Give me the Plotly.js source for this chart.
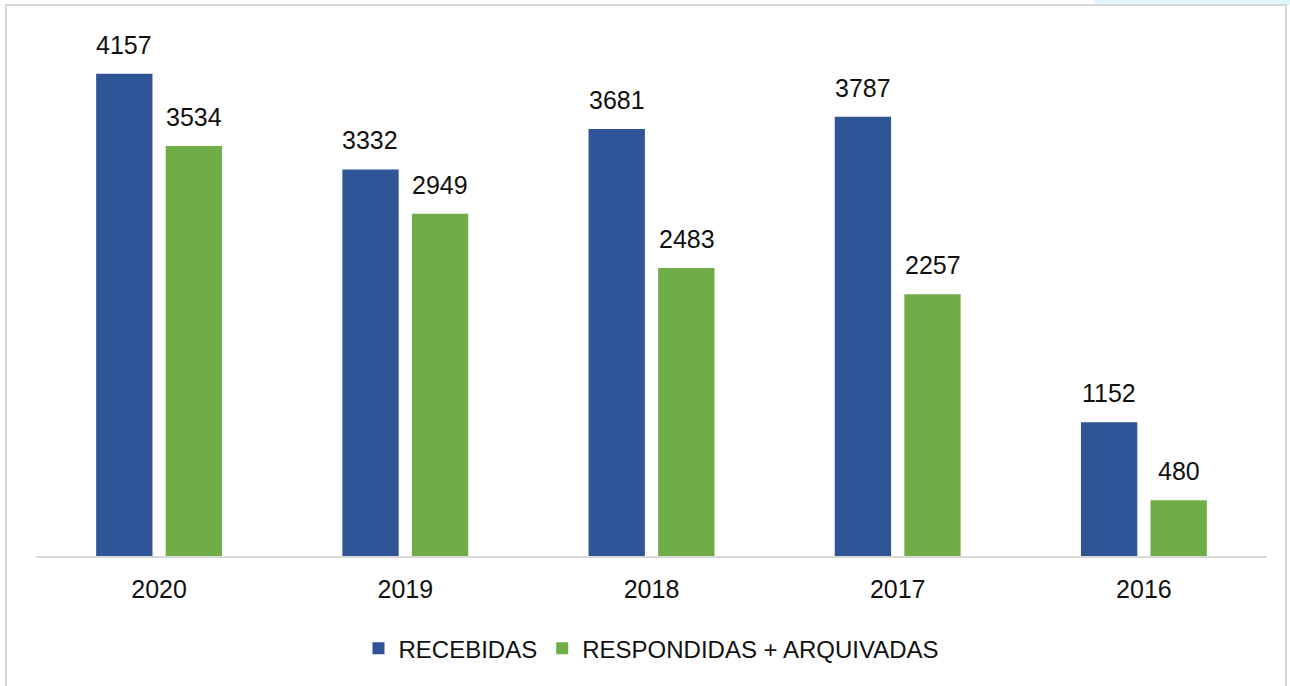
<!DOCTYPE html>
<html>
<head>
<meta charset="utf-8">
<script src="https://cdn.plot.ly/plotly-3.0.1.min.js"></script>
<style>
  html, body { margin: 0; padding: 0; background: #ffffff; }
  #chart { width: 1290px; height: 686px; }
</style>
</head>
<body>
<div id="chart"></div>
<script>
const years = ['2020', '2019', '2018', '2017', '2016'];
const recebidas = [4157, 3332, 3681, 3787, 1152];
const respondidas = [3534, 2949, 2483, 2257, 480];
const seriesNames = ['RECEBIDAS', 'RESPONDIDAS + ARQUIVADAS'];
const colors = ['#2f5597', '#70ad47'];

const FONT = 'Liberation Sans, Arial, sans-serif';

const traces = [
  { type: 'bar', name: seriesNames[0], x: years, y: recebidas, marker: { color: colors[0] }, hoverinfo: 'x+y' },
  { type: 'bar', name: seriesNames[1], x: years, y: respondidas, marker: { color: colors[1] }, hoverinfo: 'x+y' }
];

const annotations = [];
[[recebidas, -35], [respondidas, 35]].forEach(([vals, dx]) => {
  vals.forEach((v, i) => {
    annotations.push({
      x: i, y: v, xref: 'x', yref: 'y', text: String(v), showarrow: false,
      xshift: dx, yshift: 29, yanchor: 'middle',
      font: { family: FONT, size: 25, color: '#111111' }
    });
  });
});

const layout = {
  width: 1290, height: 686,
  margin: { l: 36, r: 23, t: 20, b: 130 },
  paper_bgcolor: '#ffffff', plot_bgcolor: '#ffffff',
  barmode: 'group', bargap: 0.435, bargroupgap: 0.19,
  xaxis: {
    type: 'category', categoryorder: 'array', categoryarray: years,
    range: [-0.5, years.length - 0.5],
    showgrid: false, zeroline: false,
    showline: true, linecolor: '#d9d9d9', linewidth: 1.5,
    ticks: '', ticklabelstandoff: 10,
    tickfont: { family: FONT, size: 25, color: '#111111' }
  },
  yaxis: { range: [0, 4620], visible: false, showgrid: false, zeroline: false },
  showlegend: true,
  legend: {
    orientation: 'h', x: 0.5, xanchor: 'center', y: -0.173, yanchor: 'middle',
    font: { family: FONT, size: 24, color: '#111111' },
    itemwidth: 30, tracegroupgap: 0
  },
  annotations: annotations,
  shapes: [
    { type: 'rect', xref: 'paper', yref: 'paper', x0: 0.86, x1: 1.02, y0: 1.028, y1: 1.05,
      fillcolor: '#def4f8', line: { width: 0 }, layer: 'below' },
    { type: 'rect', xref: 'paper', yref: 'paper', x0: -0.0244, x1: 1.0154, y0: -0.3, y1: 1.028,
      fillcolor: 'rgba(0,0,0,0)', line: { color: '#d6d6d6', width: 2 }, layer: 'below' }
  ]
};

Plotly.newPlot('chart', traces, layout, { displayModeBar: false, responsive: false });
</script>
</body>
</html>
